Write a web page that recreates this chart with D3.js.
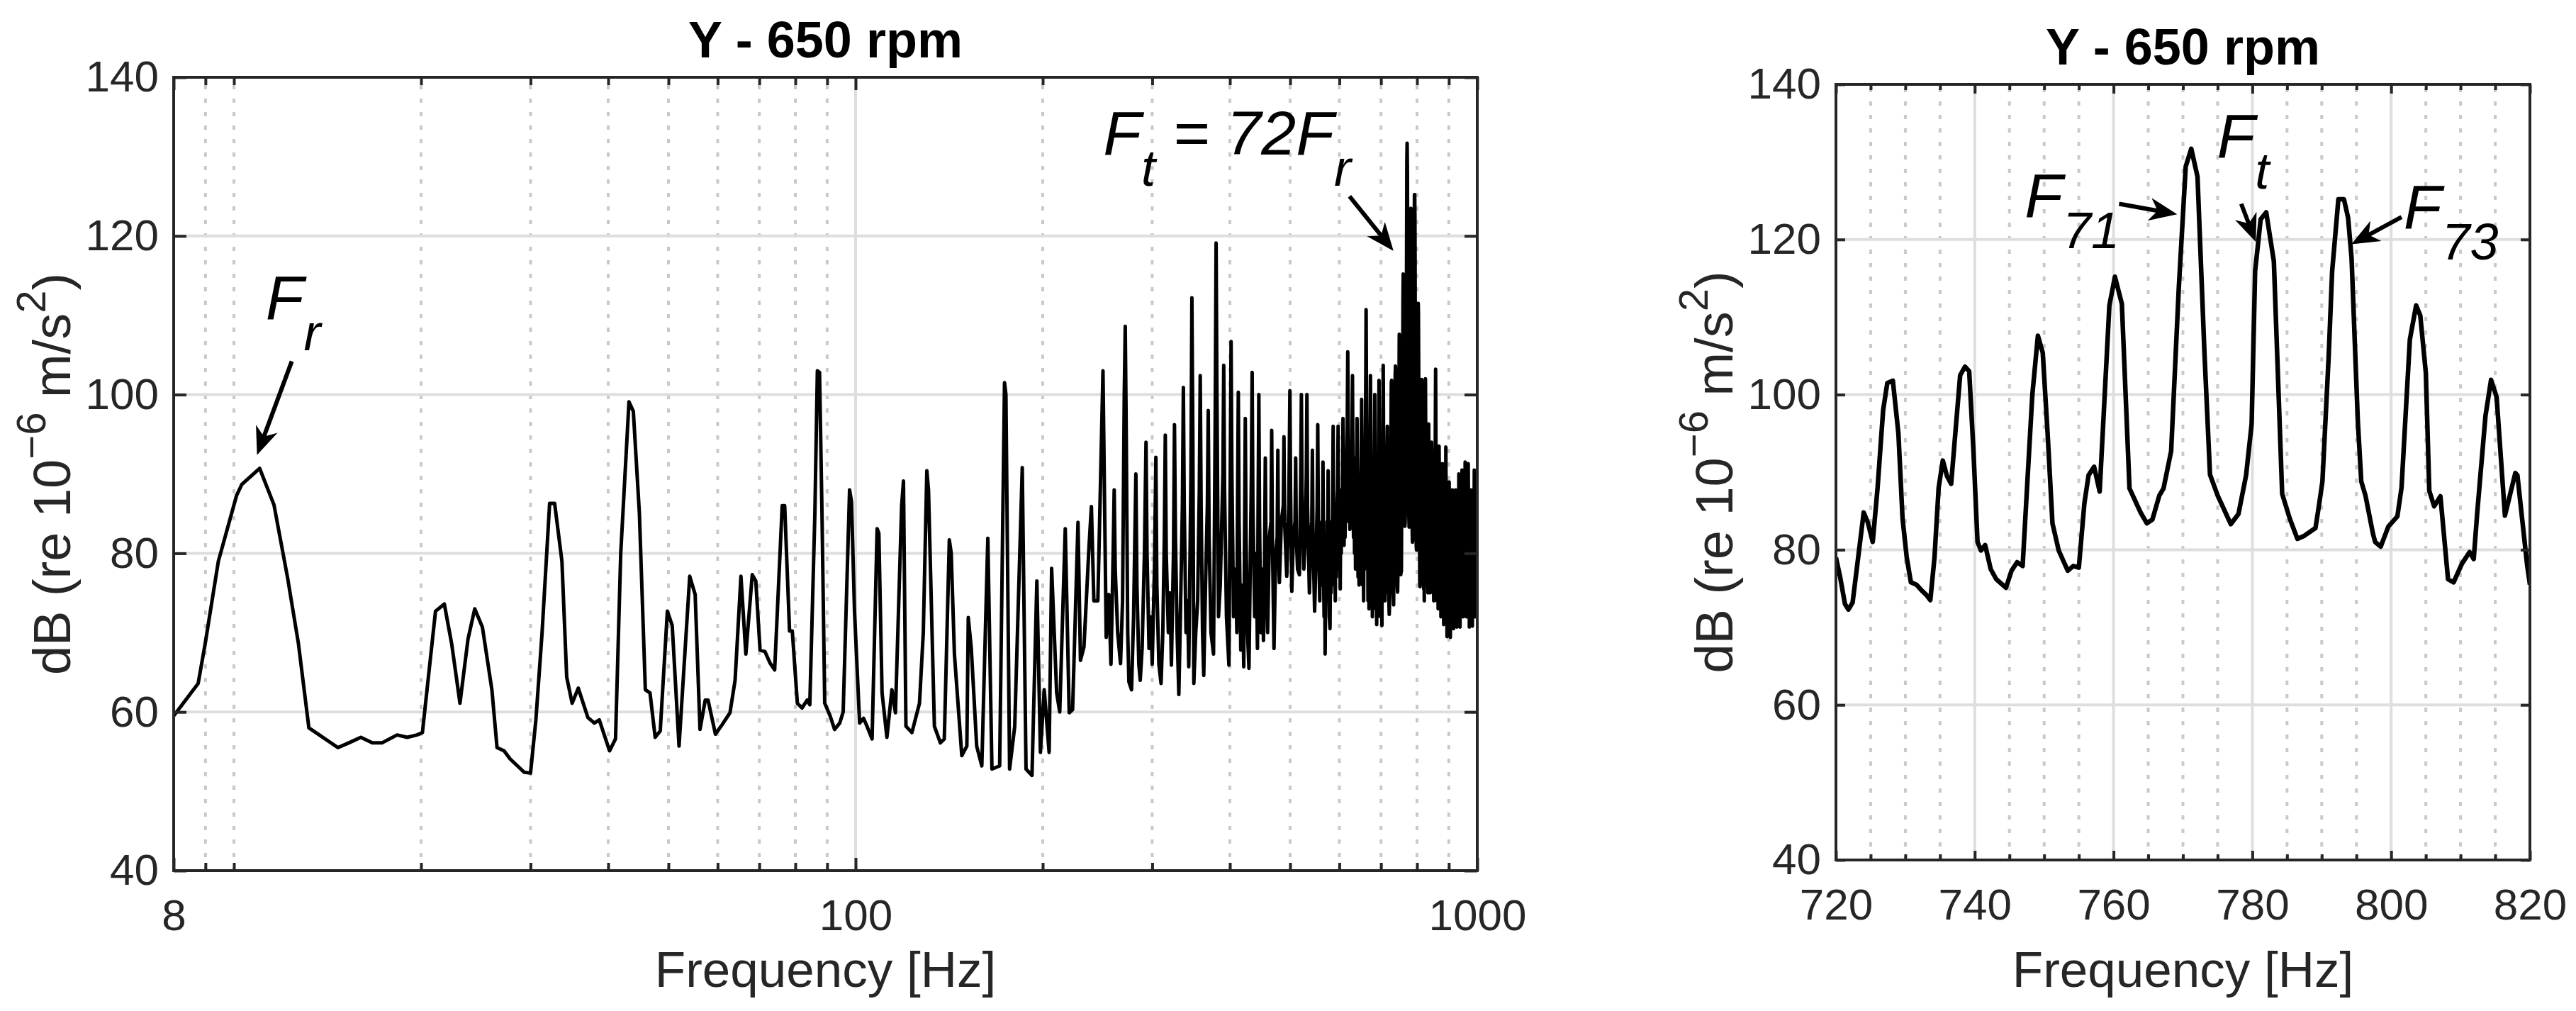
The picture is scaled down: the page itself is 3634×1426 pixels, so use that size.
<!DOCTYPE html>
<html>
<head>
<meta charset="utf-8">
<script src="https://cdn.jsdelivr.net/npm/d3@7"></script>
<style>
html, body { margin: 0; padding: 0; background: #fff; }
svg { display: block; }
</style>
</head>
<body>
<svg id="chart" width="3634" height="1426"></svg>
<script>
// ---- values ----
var yTicks = [40, 60, 80, 100, 120, 140];
var leftXTicks = [8, 100, 1000];
var leftXMinor = [9, 10, 20, 30, 40, 50, 60, 70, 80, 90, 200, 300, 400, 500, 600, 700, 800, 900];
var rightXTicks = [720, 740, 760, 780, 800, 820];
var rightXMinor = [725, 730, 735, 745, 750, 755, 765, 770, 775, 785, 790, 795, 805, 810, 815];

// spectrum, [Hz, dB], 8 - 255 Hz
var bandLow = [
	[8.0,59.5],[8.76,63.6],[8.99,68.6],[9.44,79.0],[10.1,87.3],[10.3,88.7],[11.0,90.7],[11.6,86.1],
	[12.2,76.9],[12.7,68.6],[13.2,58.0],[14.7,55.5],[15.3,56.1],[16.0,56.8],[16.7,56.1],[17.3,56.1],
	[18.3,57.1],[19.0,56.8],[19.7,57.1],[20.1,57.4],[21.1,72.7],[21.8,73.6],[22.4,68.6],[23.1,61.1],
	[23.8,69.2],[24.4,73.0],[25.1,70.7],[26.0,62.8],[26.5,55.5],[27.2,55.1],[27.8,54.1],[29.3,52.4],
	[30.0,52.3],[30.6,59.0],[31.3,69.8],[32.2,86.3],[32.8,86.3],[33.7,79.0],[34.3,64.4],[35.0,61.1],
	[35.8,63.0],[37.1,59.3],[38.0,58.6],[38.7,59.0],[40.2,55.1],[41.1,56.6],[41.9,80.0],[43.2,99.1],
	[43.9,97.9],[44.9,85.0],[45.9,62.8],[46.7,62.4],[47.6,56.8],[48.5,57.6],[49.8,72.7],[50.7,70.9],
	[52.0,55.7],[54.1,77.1],[55.2,74.8],[56.2,57.8],[57.3,61.5],[57.9,61.5],[59.5,57.2],[61.0,58.4],
	[62.8,59.9],[64.0,64.0],[65.4,77.1],[66.6,67.3],[68.2,77.3],[69.1,76.5],[70.2,67.8],[71.5,67.6],
	[72.8,66.2],[74.1,65.3],[76.2,86.0],[76.9,86.0],[78.3,70.2],[79.1,70.2],[80.6,61.1],[82.0,60.5],
	[83.6,61.5],[84.4,60.9],[86.0,85.0],[86.8,103.0],[87.5,102.8],[88.3,85.0],[89.2,61.1],[91.0,59.5],
	[92.5,57.8],[94.3,58.6],[95.5,60.0],[97.8,88.0],[98.5,86.5],[99.6,72.7],[101.5,58.6],[103.0,59.2],
	[104.3,58.2],[106.3,56.6],[108.3,83.1],[109.0,82.5],[110.3,62.4],[112.3,56.8],[114.4,62.8],[115.9,59.9],
	[118.6,86.0],[119.4,89.1],[120.5,58.2],[123.2,57.4],[126.7,61.1],[128.5,70.0],[130.2,90.4],[131.0,88.0],
	[133.9,58.2],[136.9,56.1],[138.9,56.6],[141.5,81.7],[142.5,80.0],[144.2,67.3],[148.2,54.5],[151.0,55.7],
	[151.8,71.9],[153.5,68.0],[156.6,55.7],[159.6,53.2],[163.2,81.9],[165.7,52.8],[170.5,53.2],[173.6,101.5],
	[174.5,100.0],[176.9,52.8],[180.3,58.2],[185.4,90.8],[188.0,52.8],[192.2,52.0],[195.7,76.5],[198.3,54.9],
	[201.1,62.8],[204.8,54.9],[206.7,78.1],[210.6,62.4],[213.0,60.0],[217.4,83.1],[220.6,59.9],[223.4,60.3],
	[227.9,83.9],[230.0,66.5],[233.0,68.2],[237.3,80.6],[239.5,85.9],[241.7,74.0],[245.3,74.0],[250.0,103.0],
	[253.0,69.4]
];

// 255 - 558 Hz
var bandMid = [
	[255.4,74.8],[257.5,66],[259.6,80],[260.6,88],[261.6,78],[264,70],[266.8,66.1],[268.8,74],
	[270.5,100],[271.5,108.6],[272.5,95],[274,70],[275.2,63.8],[277.9,62.8],[280,72],[282.4,90],
	[283.5,76],[285.5,66],[287.0,64.0],[289,68],[291.5,80],[293.2,94.0],[294.3,80],[296.5,68],
	[298.5,72],[300,66],[302.5,78],[304.1,92.1],[305.2,76],[307.5,66],[310.0,63.6],[312,70],
	[313.8,82],[314.9,94.9],[316,80],[318.5,70],[320.5,75],[322.1,65.9],[324.6,80],[325.8,96.2],
	[327,82],[329,70],[331.1,62.2],[333,72],[335.5,86],[336.7,100.9],[337.8,86],[340,70],
	[342,74],[343.5,65.7],[346.3,90],[347.5,112.2],[348.7,95],[350.0,63.6],[352.5,70],[355,74],
	[357.2,88],[358.4,102.4],[359.6,86],[361.5,70],[363.1,64.6],[365.5,76],[368,86],[369.2,98],
	[370.4,82],[373,70],[376.5,67.3],[378.9,98],[380.1,119.1],[381.3,100],[383.5,72],[386,76],
	[389.8,90],[391.0,103.7],[392.2,88],[395,72],[398.6,65.9],[400.6,90],[401.8,106.7],[403,90],
	[405.5,72],[408.5,78],[410.5,70],[411.5,86],[412.7,100.3],[413.9,84],[416.5,67.8],[419.5,76],
	[421.1,65.7],[422.3,82],[423.5,97],[424.7,82],[427,70],[429.3,65.5],[433.2,90],[434.4,102.8],
	[435.6,86],[438.5,72],[441,80],[443,68],[444.1,86],[445.3,100.0],[446.5,84],[448.5,70],
	[451,78],[453,69],[454.9,80],[456.1,92],[457.3,80],[460,70],[463,82],[465.8,84],
	[467.0,95.5],[468.2,82],[471,68],[474,80],[476.6,82],[477.8,93],[479,80],[480.5,76.3],
	[484,84],[487.5,86],[488.7,94.7],[489.9,84],[493.8,77.1],[497.5,86],[498.4,92],[499.6,100.5],
	[500.8,88],[503.1,75.2],[506,82],[509.2,84],[510.4,92],[511.6,82],[514,78],[517.5,77.3],
	[520.1,90],[521.3,100.0],[522.5,88],[526,78],[529,82],[530.9,90],[532.1,100.0],[533.3,86],
	[537,75],[540,82],[541.8,84],[543.0,93],[544.2,82],[547.5,72.7],[550.5,80],[552.7,86],
	[553.9,96.2],[555.1,84],[558,74]
];

// 559 - 719 Hz, dense part below the zoomed band
var bandDense = [
	[559.5,82],[561,76],[562.5,84],[563.5,80],[564.7,91.5],[565.9,78],[567,72],[568.2,80],
	[569.2,67.3],[570.5,78],[572,74],[573.2,84],[574.4,80],[575.6,90.4],[576.8,78],[578,72],
	[579.6,70.5],[580.8,80],[582,75],[583.2,84],[584.2,78],[585.2,86],[586.4,96],[587.6,82],
	[588.8,76],[590,83],[591,74],[592.2,82],[593.4,77],[594.6,86],[596.1,88],[597.3,96],
	[598.5,84],[599.7,78],[600.9,86],[601.9,75.5],[603,84],[604.2,80],[605.4,88],[606.6,82],
	[607.5,90],[608.2,97],[609.4,86],[610.6,81],[611.6,88],[612.8,82],[614,90],[615.2,84],
	[616.4,92],[617.8,96],[619.0,105.4],[620.2,94],[621.4,84],[622.6,90],[623.8,83],[625,91],
	[626.2,84],[627.4,90],[628.7,95],[629.9,102.4],[631.1,90],[632.3,82],[633.5,88],[634.7,80],
	[635.9,92],[637.1,78],[638.3,86],[639.5,90],[640.7,97],[641.9,86],[643.1,77],[644.3,85],
	[645.5,76],[646.7,88],[647.9,78],[649.1,86],[650.4,92],[651.6,99.4],[652.8,88],[654,76],
	[655.2,84],[656.4,74],[657.6,88],[658.8,78],[660,90],[661.3,98],[662.5,110.7],[663.7,96],
	[664.9,80],[666,90],[667.2,74],[668.4,86],[669.6,73],[670.8,88],[672.1,93],[673.3,102.4],
	[674.5,88],[675.7,76],[676.9,84],[678.1,72],[679.3,86],[680.5,73],[681.7,90],[683,92],
	[684.2,100],[685.4,86],[686.6,74],[687.8,82],[689,71],[690.2,84],[691.4,72],[692.6,88],
	[693.8,92],[695.0,101.8],[696.2,88],[697.4,74],[698.6,82],[699.8,72],[701,80],[702.5,70.9],
	[703.6,84],[704.7,94],[705.9,103.7],[707.1,90],[708.3,76],[709.5,84],[710.7,74],[711.9,86],
	[713.1,75],[714.3,88],[715.6,92],[716.8,96],[718,84],[719,76]
];

// 720 - 820 Hz (also the right-hand panel)
var zoomBand = [
	[720.0,79.0],[720.6,76.5],[721.3,73.0],[721.8,72.3],[722.4,73.2],[723.2,79.0],[724.0,84.8],[724.6,83.5],
	[725.3,81.0],[726.0,88.0],[726.8,98.0],[727.4,101.5],[728.2,101.8],[729.0,95.0],[729.6,84.0],[730.2,79.0],
	[730.8,75.8],[731.6,75.5],[732.3,74.8],[733.0,74.2],[733.6,73.5],[734.2,79.0],[734.8,88.0],[735.4,91.5],
	[736.0,89.5],[736.6,88.5],[737.2,95.0],[737.9,102.5],[738.6,103.6],[739.2,103.0],[739.8,93.0],[740.4,81.0],
	[740.9,79.9],[741.5,80.6],[742.3,77.5],[743.1,76.2],[744.5,75.1],[745.3,77.3],[746.1,78.4],[746.9,77.9],
	[747.6,89.0],[748.3,100.0],[749.1,107.6],[749.8,105.4],[750.5,95.0],[751.2,83.4],[752.1,79.9],[753.4,77.3],
	[754.2,77.9],[755.0,77.7],[755.8,86.0],[756.4,89.6],[757.2,90.7],[758.0,87.5],[759.4,111.5],[760.2,115.2],
	[761.2,111.7],[762.3,87.9],[763.9,84.8],[764.8,83.4],[765.6,83.9],[766.6,87.0],[767.2,87.9],[768.3,92.7],
	[769.4,113.7],[770.4,129.4],[771.2,131.7],[772.1,128.1],[773.1,105.4],[773.9,89.7],[775.0,87.0],[776.9,83.3],
	[778.0,84.6],[779.1,89.6],[779.9,96.2],[780.4,115.9],[781.2,122.6],[782.0,123.5],[783.1,117.2],[784.3,87.2],
	[785.4,84.0],[786.5,81.4],[787.5,81.8],[789.1,82.8],[789.6,85.7],[790.1,88.8],[791.0,104.9],[791.5,115.9],
	[792.4,125.2],[793.2,125.2],[793.8,122.8],[794.3,117.6],[795.2,96.6],[795.7,88.8],[796.3,87.0],[797.4,82.0],
	[797.7,81.0],[798.5,80.4],[799.6,83.0],[800.9,84.3],[801.5,88.0],[802.0,96.0],[802.7,107.1],[803.6,111.5],
	[804.2,110.2],[805.0,102.8],[805.5,87.6],[806.2,85.6],[807.1,86.9],[808.2,76.2],[809.0,75.8],[810.2,78.2],
	[811.3,79.7],[811.9,78.8],[812.4,84.7],[813.6,97.3],[814.4,101.9],[815.2,99.7],[816.4,84.4],[817.9,89.9],
	[818.2,89.6],[819.6,78.0],[820.0,75.5]
];

// 820 - 1000 Hz
var bandHigh = [
	[820.8,82],[821.8,74],[822.8,88],[823.8,77],[824.6,94],[825.4,102],[826.3,93],[827.2,79],
	[828.2,90],[829.2,76],[830.2,91],[831.2,77],[832.2,88],[833.2,75],[834.2,92],[835.3,96.3],
	[836.3,90],[837.3,77],[838.3,90],[839.3,75],[840.3,88],[841.3,76],[842.3,91],[843.3,79],
	[844.2,94],[845.1,92],[846.1,89],[847.1,76],[848.1,90],[849.1,75],[850.1,88],[851.1,74],
	[852.1,90],[853.1,76],[854.1,91],[855.1,81],[856.1,95],[857.1,103.2],[858.1,93],[859.1,77],
	[860.1,90],[861.1,74],[862.1,88],[863.1,75],[864.1,89],[865.1,73],[866.1,91],[867.1,81],
	[868.1,93.5],[869.1,88],[870.1,75],[871.1,88],[872.1,73],[873.1,89],[874.1,72],[875.1,87],
	[876.1,74],[877.1,89],[878.1,81],[879.1,91.3],[880.1,85],[881.1,73],[882.1,87],[883.1,71],
	[884.1,86],[885.1,73],[886.1,88],[887.1,72],[888.1,89],[889.1,82],[890.1,93.4],[891.1,85],
	[892.1,72],[893.1,85],[894.1,69.5],[895.1,85],[896.1,73],[897.1,87],[898.1,72],[899.1,85],
	[900.1,80],[901.1,89],[902.1,83],[903.1,72],[904.1,84],[905.1,69.4],[906.1,84],[907.1,73],
	[908.1,86],[909.1,72],[910.1,84],[911.1,79],[912.1,88],[913.1,82],[914.1,72],[915.1,85],
	[916.1,70.5],[917.1,84],[918.1,73],[919.1,86],[920.1,72],[921.1,84],[922.1,78],[923.1,88],
	[924.1,81],[925.1,72],[926.1,85],[927.1,70.7],[928.1,84],[929.1,73],[930.1,86],[931.1,72],
	[932.1,85],[933.1,80],[934.1,90],[935.1,82],[936.1,72],[937.1,84],[938.1,70.7],[939.1,85],
	[940.1,73],[941.1,86],[942.1,72],[943.1,84],[944.1,82],[945.1,90.5],[946.1,83],[947.1,73],
	[948.1,85],[949.1,72],[950.1,86],[951.1,73],[952.1,87],[953.1,73],[954.1,86],[955.1,84],
	[956.1,91.5],[957.1,83],[958.1,73],[959.1,86],[960.1,72],[961.1,86],[962.1,73],[963.1,87],
	[964.1,72],[965.1,86],[966.1,83],[967.1,91.3],[968.1,83],[969.1,72],[970.1,85],[971.1,70.7],
	[972.1,84],[973.1,73],[974.1,86],[975.1,72],[976.1,84],[977.1,81],[978.1,88],[979.1,82],
	[980.1,72],[981.1,85],[982.1,70.8],[983.1,84],[984.1,73],[985.1,86],[986.1,72],[987.1,84],
	[988.1,82],[989.1,90.5],[990.1,83],[991.1,72],[992.1,85],[993.1,72],[994.1,86],[995.1,73],
	[996.1,87],[997.1,73],[998.1,88],[999.1,80],[1000,81.7]
];

// annotations, in data units of each panel
var leftNotes = [
	{ f: 11.25, db: 109.5, parts: [["F", 0], ["r", 1]] },
	{ f: 250.2, db: 130.3, parts: [["F", 0], ["t", 1], [" = 72F", 0], ["r", 1]] }
];
var leftArrows = [
	{ from: [12.39, 104.2], to: [10.92, 92.6] },
	{ from: [623, 125.0], to: [730, 118.3] }
];
var rightNotes = [
	{ f: 747.2, db: 122.9, parts: [["F", 0], ["71", 1]] },
	{ f: 774.9, db: 130.6, parts: [["F", 0], ["t", 1]] },
	{ f: 801.8, db: 121.4, parts: [["F", 0], ["73", 1]] }
];
var rightArrows = [
	{ from: [760.8, 124.6], to: [768.9, 123.3] },
	{ from: [778.4, 124.6], to: [780.4, 119.9] },
	{ from: [801.5, 122.9], to: [794.5, 119.5] }
];

// ---- drawing ----
var FONT = '"Liberation Sans", Arial, Helvetica, sans-serif';
var INK = "#262626";
var svg = d3.select("#chart");

function styleAxis(sel, size) {
	sel.attr("font-size", size).attr("font-family", FONT).attr("color", INK);
	sel.select(".domain").remove();
	sel.selectAll("line").attr("stroke-width", 4);
}

function drawPanel(p) {
	var x = p.x, y = p.y,
		X0 = x.range()[0], X1 = x.range()[1],
		Y0 = y.range()[1], Y1 = y.range()[0],
		cx = (X0 + X1) / 2, cy = (Y0 + Y1) / 2,
		g = svg.append("g"),
		clipId = "clip-" + p.name;

	g.append("clipPath").attr("id", clipId)
		.append("rect").attr("x", X0).attr("y", Y0).attr("width", X1 - X0).attr("height", Y1 - Y0);

	// grid
	g.append("g").selectAll("line").data(p.xMinor).join("line")
		.attr("x1", function (d) { return x(d); }).attr("x2", function (d) { return x(d); })
		.attr("y1", Y1).attr("y2", Y0)
		.attr("stroke", "#c9c9c9").attr("stroke-width", 4).attr("stroke-dasharray", "6 13");
	g.append("g").selectAll("line").data(p.xTicks.filter(function (d) { return x(d) > X0 + 2 && x(d) < X1 - 2; })).join("line")
		.attr("x1", function (d) { return x(d); }).attr("x2", function (d) { return x(d); })
		.attr("y1", Y1).attr("y2", Y0)
		.attr("stroke", "#dedede").attr("stroke-width", 4);
	g.append("g").selectAll("line").data(yTicks.slice(1, -1)).join("line")
		.attr("x1", X0).attr("x2", X1)
		.attr("y1", function (d) { return y(d); }).attr("y2", function (d) { return y(d); })
		.attr("stroke", "#dedede").attr("stroke-width", 4);

	// spectrum
	var line = d3.line()
		.x(function (d) { return x(d[0]); })
		.y(function (d) { return y(d[1]); });
	g.append("path")
		.datum(p.data)
		.attr("clip-path", "url(#" + clipId + ")")
		.attr("d", line)
		.attr("fill", "none")
		.attr("stroke", "#000")
		.attr("stroke-width", p.lineWidth)
		.attr("stroke-linejoin", "round");

	// axes, ticks pointing inwards
	var fmt = function (d) { return String(d); };
	g.append("g").attr("transform", "translate(0," + Y1 + ")")
		.call(d3.axisBottom(x).tickValues(p.xTicks).tickFormat(fmt).tickSize(-p.major).tickSizeOuter(0).tickPadding(40))
		.call(styleAxis, 62);
	g.append("g").attr("transform", "translate(0," + Y1 + ")")
		.call(d3.axisBottom(x).tickValues(p.xMinor).tickFormat("").tickSize(-p.minor).tickSizeOuter(0))
		.call(styleAxis, 62);
	g.append("g").attr("transform", "translate(0," + Y0 + ")")
		.call(d3.axisTop(x).tickValues(p.xTicks).tickFormat("").tickSize(-p.major).tickSizeOuter(0))
		.call(styleAxis, 62);
	g.append("g").attr("transform", "translate(0," + Y0 + ")")
		.call(d3.axisTop(x).tickValues(p.xMinor).tickFormat("").tickSize(-p.minor).tickSizeOuter(0))
		.call(styleAxis, 62);
	g.append("g").attr("transform", "translate(" + X0 + ",0)")
		.call(d3.axisLeft(y).tickValues(yTicks).tickFormat(fmt).tickSize(-p.major).tickSizeOuter(0).tickPadding(21))
		.call(styleAxis, 62);
	g.append("g").attr("transform", "translate(" + X1 + ",0)")
		.call(d3.axisRight(y).tickValues(yTicks).tickFormat("").tickSize(-p.major).tickSizeOuter(0))
		.call(styleAxis, 62);

	g.append("rect")
		.attr("x", X0).attr("y", Y0).attr("width", X1 - X0).attr("height", Y1 - Y0)
		.attr("fill", "none").attr("stroke", INK).attr("stroke-width", 4);

	// title and labels
	g.append("text")
		.attr("x", cx).attr("y", p.titleY)
		.attr("text-anchor", "middle")
		.attr("font-family", FONT).attr("font-size", 72).attr("font-weight", "bold")
		.attr("fill", "#000")
		.text("Y - 650 rpm");

	g.append("text")
		.attr("x", cx).attr("y", 1392)
		.attr("text-anchor", "middle")
		.attr("font-family", FONT).attr("font-size", 71)
		.attr("fill", INK)
		.text("Frequency [Hz]");

	var yl = g.append("text")
		.attr("transform", "translate(" + (X0 - 146) + "," + cy + ") rotate(-90)")
		.attr("text-anchor", "middle")
		.attr("font-family", FONT).attr("font-size", 74)
		.attr("fill", INK);
	yl.append("tspan").text("dB (re 10");
	yl.append("tspan").attr("font-size", 58).attr("dy", -35).text("\u22126");
	yl.append("tspan").attr("dy", 35).text(" m/s");
	yl.append("tspan").attr("font-size", 58).attr("dy", -35).text("2");
	yl.append("tspan").attr("dy", 35).text(")");

	// annotations
	p.notes.forEach(function (n) {
		var t = g.append("text")
			.attr("x", x(n.f)).attr("y", y(n.db))
			.attr("font-family", FONT).attr("font-style", "italic")
			.attr("font-size", 88).attr("fill", "#000");
		var low = 0;
		n.parts.forEach(function (part) {
			var sub = part[1];
			t.append("tspan")
				.attr("font-size", sub ? 72 : 88)
				.attr("dy", sub === low ? 0 : (sub ? 44 : -44))
				.text(part[0]);
			low = sub;
		});
	});

	p.arrows.forEach(function (a) {
		var x0 = x(a.from[0]), y0 = y(a.from[1]),
			x1 = x(a.to[0]), y1 = y(a.to[1]),
			ang = Math.atan2(y1 - y0, x1 - x0),
			L = 34, W = 14, N = 24,
			ux = Math.cos(ang), uy = Math.sin(ang);
		g.append("line")
			.attr("x1", x0).attr("y1", y0)
			.attr("x2", x1 - ux * N).attr("y2", y1 - uy * N)
			.attr("stroke", "#000").attr("stroke-width", 6);
		var head = [
			[x1, y1],
			[x1 - ux * L - uy * W, y1 - uy * L + ux * W],
			[x1 - ux * N, y1 - uy * N],
			[x1 - ux * L + uy * W, y1 - uy * L - ux * W]
		];
		g.append("path")
			.attr("d", "M" + head.map(function (q) { return q.join(","); }).join("L") + "Z")
			.attr("fill", "#000").attr("stroke", "#000").attr("stroke-width", 2);
	});
}

drawPanel({
	name: "left",
	x: d3.scaleLog().domain([8, 1000]).range([245, 2084]),
	y: d3.scaleLinear().domain([40, 140]).range([1228, 109]),
	xTicks: leftXTicks,
	xMinor: leftXMinor,
	data: bandLow.concat(bandMid, bandDense, zoomBand, bandHigh),
	lineWidth: 5,
	major: 18,
	minor: 11,
	titleY: 81,
	notes: leftNotes,
	arrows: leftArrows
});

drawPanel({
	name: "right",
	x: d3.scaleLinear().domain([720, 820]).range([2590, 3569]),
	y: d3.scaleLinear().domain([40, 140]).range([1213, 119]),
	xTicks: rightXTicks,
	xMinor: rightXMinor,
	data: zoomBand,
	lineWidth: 6.5,
	major: 13,
	minor: 8,
	titleY: 91,
	notes: rightNotes,
	arrows: rightArrows
});
</script>
</body>
</html>
